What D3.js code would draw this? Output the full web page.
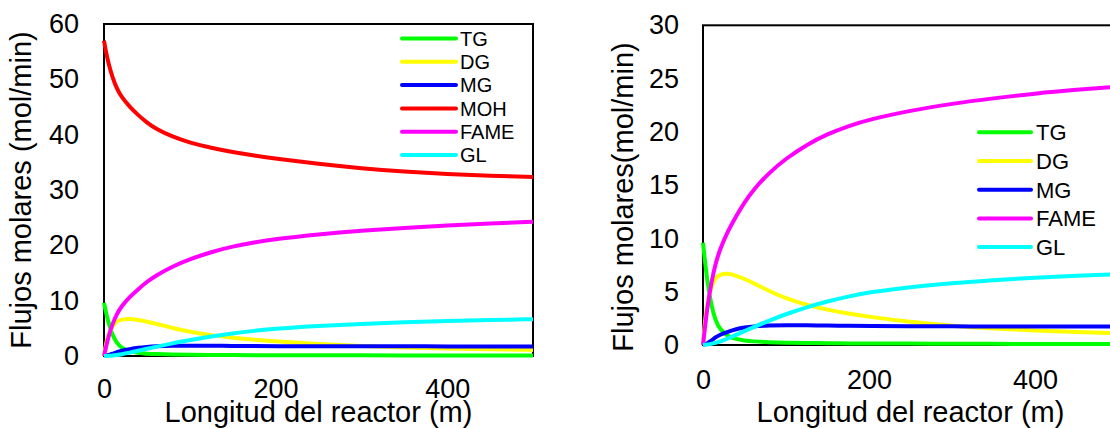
<!DOCTYPE html>
<html>
<head>
<meta charset="utf-8">
<script src="https://cdn.jsdelivr.net/npm/d3@7"></script>
<style>
  body { margin: 0; background: #fff; }
  svg { display: block; font-family: "Liberation Sans", Arial, sans-serif; }
</style>
</head>
<body>
<svg id="chart" width="1110" height="428"></svg>
<script>
// reactor length (m)
const lengths = [0, 2, 5, 10, 15, 20, 30, 40, 50, 60, 80, 100, 125, 150, 175, 200, 250, 300, 350, 400, 450, 500];

// molar flows (mol/min)
const tgFlow = [9.6, 8.1, 6.1, 3.7, 2.3, 1.5, 0.8, 0.55, 0.42, 0.34, 0.26, 0.22, 0.19, 0.17, 0.15, 0.14, 0.13, 0.12, 0.11, 0.1, 0.1, 0.1];
const dgFlow = [0, 2.0, 3.9, 5.5, 6.3, 6.6, 6.75, 6.5, 6.2, 5.85, 5.05, 4.35, 3.75, 3.3, 2.95, 2.65, 2.15, 1.8, 1.55, 1.35, 1.2, 1.1];
const mgFlow = [0, 0.05, 0.15, 0.4, 0.72, 0.95, 1.25, 1.5, 1.65, 1.75, 1.84, 1.87, 1.85, 1.82, 1.8, 1.78, 1.76, 1.75, 1.74, 1.74, 1.73, 1.73];
const mohFlow = [57, 55.2, 53.0, 50.3, 48.3, 46.9, 45.0, 43.5, 42.2, 41.1, 39.6, 38.55, 37.6, 36.85, 36.2, 35.65, 34.7, 33.9, 33.3, 32.85, 32.55, 32.35];
const fameFlow = [0, 1.4, 3.4, 5.9, 7.6, 8.9, 10.7, 12.1, 13.4, 14.5, 16.2, 17.5, 18.8, 19.8, 20.55, 21.15, 22.0, 22.65, 23.15, 23.6, 23.95, 24.25];
const glFlow = [0, 0.02, 0.05, 0.1, 0.2, 0.3, 0.6, 0.95, 1.3, 1.65, 2.3, 2.9, 3.55, 4.1, 4.55, 4.95, 5.45, 5.8, 6.1, 6.32, 6.5, 6.65];

const xTickValues = [0, 200, 400];
const leftYTicks = [0, 10, 20, 30, 40, 50, 60];
const rightYTicks = [0, 5, 10, 15, 20, 25, 30];

const allSeries = [
  { name: "TG", values: tgFlow, color: "#00ff00" },
  { name: "DG", values: dgFlow, color: "#ffff00" },
  { name: "MG", values: mgFlow, color: "#0000ff" },
  { name: "MOH", values: mohFlow, color: "#ff0000" },
  { name: "FAME", values: fameFlow, color: "#ff00ff" },
  { name: "GL", values: glFlow, color: "#00ffff" },
];

const svg = d3.select("#chart");

function drawPanel(cfg) {
  const { box } = cfg;
  const x = d3.scaleLinear().domain([0, 500]).range([box.left, box.right]);
  const y = d3.scaleLinear().domain([0, cfg.yMax]).range([box.bottom, box.top]);
  const g = svg.append("g");

  g.append("rect")
    .attr("x", box.left)
    .attr("y", box.top)
    .attr("width", box.right - box.left)
    .attr("height", box.bottom - box.top)
    .attr("fill", "none")
    .attr("stroke", "#000")
    .attr("stroke-width", 2);

  const yAxis = g.append("g")
    .attr("transform", `translate(${box.left},0)`)
    .call(d3.axisLeft(y).tickValues(cfg.yTicks).tickSize(0).tickPadding(cfg.yPad));
  const xAxis = g.append("g")
    .attr("transform", `translate(0,${box.bottom})`)
    .call(d3.axisBottom(x).tickValues(xTickValues).tickSize(0).tickPadding(cfg.xPad));
  [yAxis, xAxis].forEach((a) => {
    a.select(".domain").remove();
    a.selectAll("text")
      .attr("font-size", 27)
      .attr("fill", "#000")
      .attr("font-family", "'Liberation Sans', Arial, sans-serif");
  });

  // smooth spline through the read-off samples
  const line = d3.line()
    .x((d) => x(d.x))
    .y((d) => y(d.y))
    .curve(d3.curveBasis);

  const clipId = `clip-${cfg.id}`;
  svg.append("clipPath").attr("id", clipId)
    .append("rect")
    .attr("x", box.left - 3)
    .attr("y", box.top - 3)
    .attr("width", box.right - box.left + 6)
    .attr("height", box.bottom - box.top + 6);

  const series = allSeries.filter((s) => cfg.names.includes(s.name));

  g.append("g")
    .attr("clip-path", `url(#${clipId})`)
    .selectAll("path")
    .data(series)
    .join("path")
    .attr("fill", "none")
    .attr("stroke", (d) => d.color)
    .attr("stroke-width", 4)
    .attr("d", (d) => line(lengths.map((l, i) => ({ x: l, y: d.values[i] }))));

  g.append("text")
    .attr("x", (box.left + box.right) / 2)
    .attr("y", 422)
    .attr("text-anchor", "middle")
    .attr("font-size", 29)
    .text("Longitud del reactor (m)");

  g.append("text")
    .attr("transform", `translate(${cfg.yLabelX},${cfg.yLabelY}) rotate(-90)`)
    .attr("text-anchor", "middle")
    .attr("font-size", 29)
    .text(cfg.yLabel);

  const leg = g.append("g");
  const rows = leg.selectAll("g")
    .data(series)
    .join("g")
    .attr("transform", (d, i) => `translate(0,${cfg.legend.y + i * cfg.legend.step})`);
  rows.append("line")
    .attr("x1", cfg.legend.x1)
    .attr("x2", cfg.legend.x2)
    .attr("stroke", (d) => d.color)
    .attr("stroke-width", 4)
    .attr("stroke-linecap", "round");
  rows.append("text")
    .attr("x", cfg.legend.tx)
    .attr("dy", "0.36em")
    .attr("font-size", cfg.legend.fontSize)
    .text((d) => d.name);
}

drawPanel({
  id: "left",
  box: { left: 104, top: 24, right: 533, bottom: 356 },
  yMax: 60,
  yTicks: leftYTicks,
  yPad: 25,
  xPad: 23,
  names: ["TG", "DG", "MG", "MOH", "FAME", "GL"],
  yLabel: "Flujos molares (mol/min)",
  yLabelX: 31,
  yLabelY: 190,
  legend: { x1: 402, x2: 456, tx: 460, y: 38.5, step: 23.3, fontSize: 20 },
});

drawPanel({
  id: "right",
  box: { left: 703, top: 25.3, right: 1118, bottom: 345 },
  yMax: 30,
  yTicks: rightYTicks,
  yPad: 24,
  xPad: 25,
  names: ["TG", "DG", "MG", "FAME", "GL"],
  yLabel: "Flujos molares(mol/min)",
  yLabelX: 633,
  yLabelY: 197,
  legend: { x1: 979, x2: 1031, tx: 1036, y: 132.3, step: 28.7, fontSize: 22 },
});
</script>
</body>
</html>
